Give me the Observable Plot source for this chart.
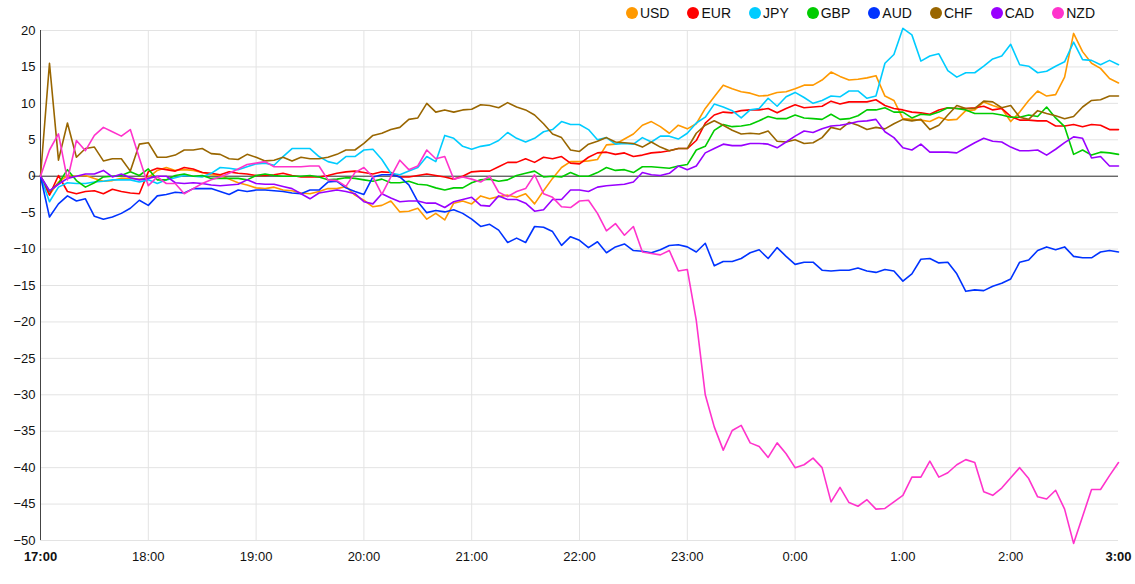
<!DOCTYPE html>
<html>
<head>
<meta charset="utf-8">
<script src="https://cdn.jsdelivr.net/npm/d3@7"></script>
<script src="https://cdn.jsdelivr.net/npm/@observablehq/plot@0.6"></script>
<style>
  html, body { margin: 0; padding: 0; background: #fff; }
  body { width: 1135px; height: 584px; overflow: hidden; font-family: "Liberation Sans", Arial, sans-serif; }
  #legend { height: 22px; display: flex; justify-content: flex-end; align-items: center; padding-right: 40px; box-sizing: border-box; padding-top: 3px; font-size: 14px; color: #111; }
  #legend .item { display: flex; align-items: center; margin-left: 18px; }
  #legend .dot { width: 12px; height: 12px; border-radius: 50%; margin-right: 2px; }
  #chart svg { display: block; }
</style>
</head>
<body>
<div id="legend"></div>
<div id="chart"></div>
<script>
// Currencies and colors
const currencies = ["USD", "EUR", "JPY", "GBP", "AUD", "CHF", "CAD", "NZD"];
const colors = ["#ff9900", "#ff0000", "#00ccff", "#00cc00", "#0033ff", "#996600", "#9900ff", "#ff33cc"];

// X tick labels (hours from 17:00 to 3:00), 5-minute steps
const hourLabels = ["17:00", "18:00", "19:00", "20:00", "21:00", "22:00", "23:00", "0:00", "1:00", "2:00", "3:00"];
const stepMinutes = 5;
const yTicks = [20, 15, 10, 5, 0, -5, -10, -15, -20, -25, -30, -35, -40, -45, -50];

// Series values (one every 5 minutes, 121 values)
const USD = [0, -2.5, -0.8, 0.1, 0.0, 0.1, -0.3, -0.7, -0.6, -0.3, -0.3, -0.4, -0.2, 0.8, 1.2, 0.8, 0.9, 0.8, 0.5, 0.2, 0.1, -0.4, -0.9, -1.2, -1.6, -1.7, -1.5, -1.9, -2.0, -2.3, -2.4,
  -2.1, -1.7, -1.7, -1.4, -2.6, -3.3, -4.2, -4.0, -3.4, -4.9, -4.8, -4.4, -5.9, -5.1, -6.0, -3.7, -3.4, -3.8, -2.7, -3.1, -2.8, -2.6, -2.9, -2.4, -3.8, -2.0, -0.3, 1.2, 2.0, 2.0,
  2.1, 2.3, 4.3, 4.4, 5.1, 5.8, 7.0, 7.5, 6.8, 5.9, 7.0, 6.5, 7.2, 9.3, 10.9, 12.5, 12.0, 11.6, 11.4, 11.0, 11.1, 11.5, 11.6, 12.0, 12.5, 12.5, 13.2, 14.3, 13.7, 13.2,
  13.3, 13.5, 13.8, 11.0, 10.4, 7.9, 7.8, 7.7, 7.5, 8.1, 7.7, 7.8, 9.0, 9.1, 10.2, 9.7, 9.3, 7.5, 8.8, 10.4, 11.7, 11.0, 11.2, 13.6, 19.6, 17.1, 15.5, 14.8, 13.4, 12.8];
const EUR = [0, -2.6, 0.1, -2.1, -2.4, -2.1, -2.0, -2.4, -1.8, -2.1, -2.3, -2.4, 0.6, 1.1, 0.9, 0.7, 1.2, 1.0, 0.5, 0.4, 0.2, 0.6, 0.4, 0.3, 0.1, 0.1, 0.2, 0.4, 0.1, -0.1, -0.1,
  -0.1, 0.1, 0.4, 0.6, 0.7, 0.5, 0.3, 0.6, 0.5, -0.1, -0.1, 0.1, 0.3, 0.1, -0.1, -0.4, 0, 0.6, 0.7, 0.7, 1.3, 1.9, 1.9, 2.4, 1.9, 2.6, 2.4, 2.7, 1.8, 1.7,
  2.6, 3.2, 3.3, 3.0, 3.2, 2.7, 2.9, 3.2, 3.3, 3.5, 3.8, 3.8, 4.9, 7.3, 8.4, 8.8, 8.7, 9.0, 9.1, 9.1, 9.3, 8.7, 9.3, 9.8, 9.4, 9.5, 9.6, 10.3, 9.9, 10.2,
  10.2, 10.2, 10.5, 9.7, 9.3, 9.1, 8.8, 8.7, 8.5, 9.1, 9.4, 9.3, 9.3, 9.4, 9.6, 9.1, 9.3, 8.2, 7.7, 7.7, 7.6, 7.6, 6.9, 6.9, 7.1, 6.8, 7.1, 7.0, 6.4, 6.4];
const JPY = [0, -3.5, -1.5, -0.9, -1.0, -1.0, -0.8, -0.7, -0.5, -0.5, -0.5, -0.8, -0.5, -1.0, -0.5, -0.2, 0.1, 0, -0.1, 0.4, 1.2, 1.1, 0.9, 1.3, 1.7, 1.8, 1.5, 2.7, 3.8, 3.8, 3.8,
  2.7, 2.0, 1.7, 2.7, 2.7, 3.6, 3.7, 2.3, 0.4, 0.2, 0.7, 1.2, 2.7, 2.0, 5.6, 5.2, 4.1, 3.7, 4.1, 4.3, 4.9, 6.0, 5.2, 4.7, 5.2, 6.1, 6.4, 7.5, 7.1, 7.1,
  6.4, 5.0, 5.3, 4.4, 4.5, 4.4, 5.3, 4.7, 5.5, 5.5, 5.1, 5.9, 7.3, 8.1, 9.9, 9.5, 9.0, 8.0, 9.1, 9.3, 10.7, 9.6, 10.9, 11.5, 10.8, 10.0, 10.4, 11.0, 10.9, 11.7,
  11.7, 10.7, 11.0, 15.5, 16.7, 20.3, 19.4, 15.8, 16.5, 16.8, 14.5, 13.6, 14.2, 14.2, 15.1, 16.1, 16.5, 18.1, 15.3, 15.1, 14.2, 14.4, 15.1, 15.7, 18.4, 16.0, 15.9, 15.3, 15.9, 15.3];
const GBP = [0, -2.1, -1.0, 0.9, -0.6, -1.5, -0.9, -0.1, 0, 0.1, 0.6, 0.1, 1.0, -0.5, -0.5, 0.1, 0.3, 0, 0.1, -0.3, -0.3, -0.3, -0.3, -0.5, 0.1, 0.3, 0.1, 0, 0, 0, 0.1,
  -0.1, -0.5, -0.4, -0.2, -0.3, -0.5, -0.7, -0.4, -0.9, -0.9, -0.7, -1.1, -1.2, -1.6, -1.9, -1.6, -1.6, -0.9, -0.5, -0.4, -0.7, -0.5, 0.1, 0.4, 0.7, -0.1, 0, -0.1, 0.5, 0,
  0, 0.5, 1.2, 0.8, 0.9, 0.5, 1.3, 1.3, 1.2, 1.1, 1.4, 1.6, 3.6, 4.1, 6.3, 7.1, 6.8, 6.9, 7.1, 7.6, 8.2, 7.9, 7.9, 8.4, 8.0, 7.9, 7.8, 8.5, 7.8, 7.9,
  8.3, 9.1, 9.1, 9.4, 8.8, 8.8, 8.0, 8.5, 8.4, 8.8, 9.4, 9.3, 9.1, 8.6, 8.6, 8.6, 8.4, 8.1, 8.1, 8.4, 8.2, 9.5, 8.0, 6.8, 3.0, 3.6, 2.9, 3.3, 3.2, 3.0];
const AUD = [0, -5.6, -3.8, -2.7, -3.4, -3.1, -5.5, -5.9, -5.6, -5.1, -4.4, -3.3, -4.0, -2.7, -2.5, -2.2, -2.3, -1.7, -1.7, -1.7, -2.1, -2.5, -1.9, -2.1, -1.9, -1.9, -2.0, -2.1, -2.3, -2.4, -1.9,
  -1.9, -0.8, -0.7, -1.6, -2.1, -2.5, -0.1, 0.2, 0.2, -0.1, -1.2, -3.5, -5.0, -4.7, -4.9, -4.6, -5.1, -5.9, -6.9, -6.6, -7.4, -9.1, -8.5, -9.1, -6.9, -7.0, -7.6, -9.5, -8.3, -8.8,
  -9.8, -9.0, -10.5, -9.7, -9.3, -10.2, -10.3, -10.5, -10.1, -9.5, -9.4, -9.7, -10.4, -9.2, -12.3, -11.7, -11.7, -11.3, -10.5, -10.1, -11.3, -9.8, -11.0, -12.1, -11.8, -11.8, -12.9, -13.0, -12.9, -12.9,
  -12.6, -13.0, -13.2, -12.8, -13.0, -14.4, -13.4, -11.4, -11.3, -11.9, -11.8, -13.4, -15.8, -15.6, -15.7, -15.1, -14.7, -14.1, -11.8, -11.5, -10.2, -9.7, -10.1, -9.7, -11.0, -11.2, -11.2, -10.4, -10.2, -10.4];
const CHF = [0, 15.5, 2.2, 7.3, 2.6, 3.8, 4.0, 2.1, 2.4, 2.4, 0.7, 4.4, 4.6, 2.6, 2.6, 2.9, 3.6, 3.6, 3.8, 3.1, 3.0, 2.4, 2.3, 3.0, 2.6, 2.1, 2.2, 2.6, 2.1, 2.6, 2.4,
  2.4, 2.6, 3.0, 3.6, 3.6, 4.5, 5.6, 5.9, 6.4, 6.7, 7.8, 8.0, 10.0, 8.8, 9.1, 8.8, 9.1, 9.2, 9.8, 9.7, 9.4, 10.1, 9.5, 9.1, 8.4, 7.2, 5.8, 5.3, 3.6, 3.4,
  4.4, 4.8, 5.3, 4.7, 4.6, 4.5, 4.0, 4.7, 4.0, 3.5, 3.8, 3.8, 5.9, 7.0, 7.6, 7.0, 6.3, 5.8, 5.9, 5.8, 6.2, 4.8, 4.7, 5.0, 4.5, 4.6, 5.3, 6.7, 6.4, 7.4,
  7.0, 6.4, 6.7, 6.5, 7.2, 7.8, 7.6, 7.8, 6.4, 7.0, 8.4, 9.7, 9.3, 9.3, 10.3, 10.2, 9.4, 9.7, 8.1, 7.8, 9.0, 8.6, 8.3, 7.9, 8.2, 9.5, 10.4, 10.5, 11.0, 11.0];
const CAD = [0, -2.0, -1.1, -0.3, 0, 0.3, 0.3, 0.8, -0.1, 0.3, -0.2, -0.5, -0.3, 0, 0, -0.9, -1.0, -0.9, -1.0, -1.2, -1.3, -1.2, -1.1, -0.5, -1.0, -1.1, -1.1, -1.4, -1.7, -2.4, -3.1,
  -2.3, -2.1, -1.9, -2.1, -2.4, -3.5, -3.8, -2.4, -3.0, -3.5, -3.4, -3.4, -3.7, -3.7, -4.3, -3.5, -3.2, -2.9, -4.0, -4.1, -2.7, -3.2, -3.2, -3.7, -4.8, -4.6, -3.2, -3.2, -1.9, -1.9,
  -2.1, -1.5, -1.3, -1.2, -1.1, -0.8, 0.5, 0.2, 0.1, 0.4, 1.4, 0.9, 1.4, 3.2, 3.8, 4.4, 4.2, 4.2, 4.5, 4.5, 4.4, 3.9, 4.7, 5.5, 6.2, 6.0, 6.5, 6.9, 7.0, 7.2,
  7.5, 7.6, 7.8, 6.1, 5.3, 3.9, 3.6, 4.4, 3.3, 3.3, 3.3, 3.2, 3.9, 4.6, 5.2, 4.8, 4.7, 4.0, 3.5, 3.5, 3.6, 2.9, 3.7, 4.6, 5.4, 5.2, 2.5, 2.7, 1.4, 1.4];
const NZD = [0, 3.6, 5.8, -0.5, 4.9, 3.5, 5.6, 6.7, 6.1, 5.5, 6.4, 2.5, -1.3, -0.1, -1.0, -1.0, -2.4, -1.7, -1.0, -0.5, -0.1, 0.4, 1.0, 1.6, 1.8, 2.0, 1.3, 1.3, 1.3, 1.3, 1.4,
  1.4, -0.5, -0.6, -1.4, 0.5, 1.2, -0.1, -2.5, -0.1, 2.2, 0.9, 1.4, 3.6, 2.4, 2.7, -0.4, -0.1, -0.4, -0.8, 0, -2.2, -2.8, -2.1, -1.7, 0.2, -2.4, -2.9, -4.2, -4.3, -3.4,
  -3.3, -5.1, -7.5, -6.5, -8.1, -6.9, -10.4, -10.6, -10.8, -10.2, -13.0, -12.8, -19.8, -30.0, -34.4, -37.6, -34.9, -34.2, -36.6, -37.1, -38.6, -36.6, -38.1, -40.0, -39.6, -38.7, -40.0, -44.7, -42.7, -44.8,
  -45.3, -44.4, -45.7, -45.6, -44.7, -43.8, -41.3, -41.3, -39.1, -41.3, -40.7, -39.6, -38.9, -39.3, -43.3, -43.8, -42.8, -41.4, -40.0, -41.5, -44.0, -44.3, -43.1, -45.7, -50.4, -46.7, -43.0, -43.0, -41.1, -39.3];

const seriesValues = [USD, EUR, JPY, GBP, AUD, CHF, CAD, NZD];

// Build tidy rows (x in hours after 17:00)
const rows = [];
currencies.forEach((c, k) => {
  seriesValues[k].forEach((v, i) => rows.push({cur: c, t: i * stepMinutes / 60, v}));
});

// Legend
const legend = document.getElementById("legend");
currencies.forEach((c, k) => {
  const it = document.createElement("div");
  it.className = "item";
  it.innerHTML = `<span class="dot" style="background:${colors[k]}"></span><span>${c}</span>`;
  legend.appendChild(it);
});

const hourIdx = d3.range(hourLabels.length);
const fmt = (d) => hourLabels[d];

const chart = Plot.plot({
  width: 1135,
  height: 562,
  marginLeft: 40,
  marginRight: 17,
  marginTop: 8,
  marginBottom: 44,
  style: {fontFamily: "'Liberation Sans', Arial, sans-serif", fontSize: "13px", color: "#111", background: "#fff"},
  x: {domain: [0, hourLabels.length - 1]},
  y: {domain: [-50, 20]},
  color: {domain: currencies, range: colors},
  marks: [
    Plot.gridY(yTicks, {stroke: "#e3e3e3", strokeOpacity: 1}),
    Plot.gridX(hourIdx.slice(1, -1), {stroke: "#e3e3e3", strokeOpacity: 1}),
    Plot.ruleY([0], {stroke: "#333", strokeWidth: 1, insetLeft: -8}),
    Plot.ruleX([0], {stroke: "#444", strokeWidth: 1}),
    Plot.axisY(yTicks, {tickSize: 0, tickPadding: 5, label: null, fill: "#111", fontSize: 13}),
    Plot.axisX(hourIdx.slice(1, -1), {tickSize: 0, tickPadding: 11, label: null, tickFormat: fmt, fill: "#111", fontSize: 13}),
    Plot.axisX([0, hourLabels.length - 1], {tickSize: 0, tickPadding: 11, label: null, tickFormat: fmt, fill: "#111", fontSize: 13, fontWeight: "bold"}),
    Plot.line(rows, {x: "t", y: "v", z: "cur", stroke: "cur", strokeWidth: 1.6, clip: false})
  ]
});
document.getElementById("chart").appendChild(chart);
</script>
</body>
</html>
